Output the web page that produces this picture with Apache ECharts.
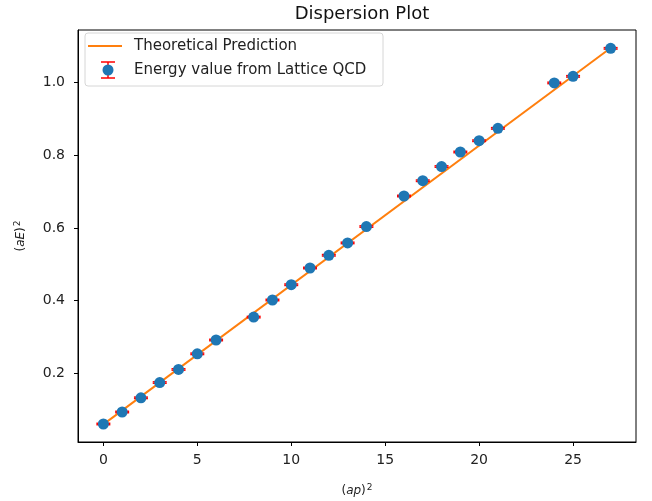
<!DOCTYPE html>
<html>
<head>
<meta charset="utf-8">
<script src="https://cdn.jsdelivr.net/npm/echarts@6/dist/echarts.min.js"></script>
<style>
  html, body { margin: 0; padding: 0; background: #fff; }
  #chart { width: 652px; height: 501px; }
</style>
</head>
<body>
<div id="chart"></div>
<script>
  // lattice data
  const momentumSq = [0, 1, 2, 3, 4, 5, 6, 8, 9, 10, 11, 12, 13, 14, 16, 17, 18, 19, 20, 21, 24, 25, 27];
  const energySq = [0.061, 0.094, 0.133, 0.175, 0.211, 0.254, 0.292, 0.355, 0.402, 0.444, 0.490, 0.525, 0.559, 0.604,
    0.688, 0.730, 0.769, 0.809, 0.840, 0.874, 0.999, 1.017, 1.094];
  const energyErr = [0.002, 0.002, 0.002, 0.002, 0.002, 0.002, 0.002, 0.002, 0.002, 0.002, 0.002, 0.002, 0.002, 0.002,
    0.002, 0.002, 0.002, 0.002, 0.002, 0.002, 0.002, 0.002, 0.002];
  // theory line endpoints
  const theoryX = [0, 27];
  const theoryY = [0.060, 1.095];
  const xTicks = [0, 5, 10, 15, 20, 25];
  const yTicks = [0.2, 0.4, 0.6, 0.8, 1.0];

  const font = "DejaVu Sans";
  const chart = echarts.init(document.getElementById("chart"));

  const nameStyle = {
    fontFamily: font, fontSize: 12, color: "#222",
    rich: {
      i: { fontFamily: font, fontSize: 12, fontStyle: "italic", color: "#222" },
      s: { fontFamily: font, fontSize: 9, color: "#222", verticalAlign: "top", padding: [0, 0, 6, 1] }
    }
  };

  chart.setOption({
    animation: false,
    textStyle: { fontFamily: font },
    title: {
      text: "Dispersion Plot",
      left: 357,
      textAlign: "center",
      top: 0,
      textStyle: { fontFamily: font, fontSize: 18, fontWeight: "normal", color: "#111" }
    },
    grid: {
      left: 78, right: 16, top: 30, bottom: 59,
      show: true, borderColor: "#000", borderWidth: 1,
      outerBoundsMode: "none"
    },
    xAxis: {
      type: "value",
      min: -1.35,
      max: 28.35,
      name: "({i|ap}){s|2}",
      nameLocation: "middle",
      nameGap: 41,
      nameTextStyle: nameStyle,
      axisLine: { show: true, onZero: false, lineStyle: { color: "#000" } },
      axisTick: { show: true, length: 4, inside: false, customValues: xTicks, lineStyle: { color: "#000" } },
      axisLabel: { customValues: xTicks, fontSize: 14, color: "#222", margin: 11 },
      splitLine: { show: false }
    },
    yAxis: {
      type: "value",
      min: 0.0115,
      max: 1.1445,
      name: "({i|aE}){s|2}",
      nameLocation: "middle",
      nameRotate: 90,
      nameGap: 50,
      nameTextStyle: nameStyle,
      axisLine: { show: true, onZero: false, lineStyle: { color: "#000" } },
      axisTick: { show: true, length: 4, inside: false, customValues: yTicks, lineStyle: { color: "#000" } },
      axisLabel: { customValues: yTicks, fontSize: 14, color: "#222", margin: 13,
        formatter: v => v.toFixed(1) },
      splitLine: { show: false }
    },
    series: [
      {
        name: "Theoretical Prediction",
        type: "line",
        symbol: "none",
        data: theoryX.map((x, i) => [x, theoryY[i]]),
        lineStyle: { color: "#ff7f0e", width: 2 },
        z: 2
      },
      {
        name: "errors",
        type: "custom",
        data: momentumSq.map((x, i) => [x, energySq[i] - energyErr[i], energySq[i] + energyErr[i]]),
        encode: { x: 0, y: [1, 2] },
        renderItem: function (params, api) {
          const x = api.value(0);
          const lo = api.coord([x, api.value(1)]);
          const hi = api.coord([x, api.value(2)]);
          const hw = 7;
          const st = { stroke: "#ff0000", lineWidth: 1.5 };
          return {
            type: "group",
            children: [
              { type: "line", shape: { x1: lo[0], y1: lo[1], x2: hi[0], y2: hi[1] }, style: st },
              { type: "line", shape: { x1: lo[0] - hw, y1: lo[1], x2: lo[0] + hw, y2: lo[1] }, style: st },
              { type: "line", shape: { x1: hi[0] - hw, y1: hi[1], x2: hi[0] + hw, y2: hi[1] }, style: st }
            ]
          };
        },
        z: 3
      },
      {
        name: "Energy value from Lattice QCD",
        type: "scatter",
        symbol: "circle",
        symbolSize: 11,
        data: momentumSq.map((x, i) => [x, energySq[i]]),
        itemStyle: { color: "#1f77b4", opacity: 1 },
        z: 4
      }
    ],
    graphic: [
      {
        type: "rect",
        shape: { x: 85, y: 33, width: 298, height: 53, r: 3 },
        style: { fill: "rgba(255,255,255,0.8)", stroke: "#d6d6d6", lineWidth: 1 },
        z: 10
      },
      {
        type: "line",
        shape: { x1: 88, y1: 46, x2: 122, y2: 46 },
        style: { stroke: "#ff7f0e", lineWidth: 2 },
        z: 11
      },
      {
        type: "text",
        x: 134, y: 46,
        style: { text: "Theoretical Prediction", fontFamily: font, fontSize: 15, fill: "#222", verticalAlign: "middle" },
        z: 11
      },
      {
        type: "line",
        shape: { x1: 108, y1: 62, x2: 108, y2: 78 },
        style: { stroke: "#ff0000", lineWidth: 1.5 },
        z: 11
      },
      {
        type: "line",
        shape: { x1: 101, y1: 62, x2: 115, y2: 62 },
        style: { stroke: "#ff0000", lineWidth: 1.5 },
        z: 11
      },
      {
        type: "line",
        shape: { x1: 101, y1: 78, x2: 115, y2: 78 },
        style: { stroke: "#ff0000", lineWidth: 1.5 },
        z: 11
      },
      {
        type: "circle",
        shape: { cx: 108, cy: 70, r: 5.5 },
        style: { fill: "#1f77b4" },
        z: 12
      },
      {
        type: "text",
        x: 134, y: 70,
        style: { text: "Energy value from Lattice QCD", fontFamily: font, fontSize: 15, fill: "#222", verticalAlign: "middle" },
        z: 11
      }
    ]
  });
</script>
</body>
</html>
